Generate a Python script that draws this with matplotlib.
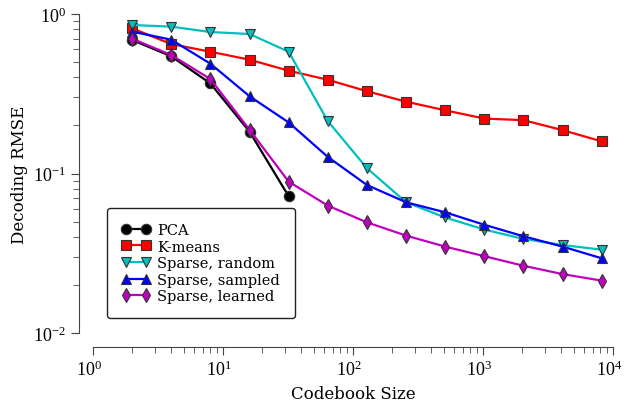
import matplotlib
matplotlib.use('Agg')
import numpy as np
import matplotlib.pyplot as plt
import matplotlib.transforms as mtransforms
from matplotlib.ticker import FuncFormatter

# codebook sizes (powers of two)
sizes = [2, 4, 8, 16, 32, 64, 128, 256, 512, 1024, 2048, 4096, 8192]

pca = [0.687, 0.543, 0.367, 0.183, 0.072]
kmeans = [0.813, 0.648, 0.580, 0.517, 0.441, 0.387, 0.328, 0.282, 0.249,
          0.221, 0.216, 0.187, 0.159]
sparse_random = [0.853, 0.833, 0.771, 0.749, 0.580, 0.213, 0.108, 0.066,
                 0.053, 0.0445, 0.0389, 0.0356, 0.0333]
sparse_sampled = [0.775, 0.690, 0.488, 0.305, 0.209, 0.127, 0.0847, 0.066,
                  0.0571, 0.0477, 0.0404, 0.0348, 0.0294]
sparse_learned = [0.700, 0.553, 0.391, 0.188, 0.0889, 0.0629, 0.0494, 0.0408,
                  0.0348, 0.0303, 0.0264, 0.0234, 0.0213]

plt.rcParams['font.family'] = ['DejaVu Serif']
plt.rcParams['mathtext.fontset'] = 'custom'
plt.rcParams['mathtext.rm'] = 'Liberation Serif'
plt.rcParams['mathtext.it'] = 'Liberation Serif:italic'
plt.rcParams['mathtext.bf'] = 'Liberation Serif:bold'

fig = plt.figure(figsize=(6.24, 4.06), dpi=100)
ax = fig.add_axes([93 / 624, 1 - 334 / 406, 520 / 624, 319 / 406])

mk = dict(markersize=7.5, markeredgecolor='#333333', markeredgewidth=0.8, lw=1.6)
ax.plot(sizes[:len(pca)], pca, 'k-o', label='PCA', **mk)
ax.plot(sizes, kmeans, 'r-s', label='K-means', **mk)
ax.plot(sizes, sparse_random, 'c-v', label='Sparse, random', **mk)
ax.plot(sizes, sparse_sampled, 'b-^', label='Sparse, sampled', **mk)
ax.plot(sizes, sparse_learned, 'm-d', label='Sparse, learned', **mk)

ax.set_xscale('log')
ax.set_yscale('log')
ax.set_xlim(1, 1e4)
ax.set_ylim(1e-2, 1)
ax.set_xticks([1, 10, 100, 1000, 10000])
ax.set_yticks([0.01, 0.1, 1])

pow10 = FuncFormatter(lambda v, pos: r'$10^{%d}$' % round(np.log10(v)))
ax.xaxis.set_major_formatter(pow10)
ax.yaxis.set_major_formatter(pow10)

for side in ['top', 'right']:
    ax.spines[side].set_visible(False)
for side in ['left', 'bottom']:
    ax.spines[side].set_position(('outward', 10))
    ax.spines[side].set_color('#444444')
ax.tick_params(which='both', direction='out', colors='#444444', labelcolor='black',
               labelsize=13)
ax.tick_params(which='major', length=6)
ax.tick_params(which='minor', length=4)

# nudge x tick labels a bit left so 10^4 stays inside the figure
shift = mtransforms.ScaledTranslation(-4 / 100, 0, fig.dpi_scale_trans)
for lbl in ax.get_xticklabels():
    lbl.set_transform(lbl.get_transform() + shift)

ax.set_xlabel('Codebook Size', fontsize=12, labelpad=4)
ax.set_ylabel('Decoding RMSE', fontsize=12)

leg = ax.legend(loc='lower left', bbox_to_anchor=(0.027, 0.047), numpoints=2,
                fontsize=10.5, handlelength=2.0, handletextpad=0.45, labelspacing=0.18,
                borderpad=1.0, borderaxespad=0, fancybox=True, framealpha=1)
leg.get_frame().set_edgecolor('#222222')
leg.get_frame().set_linewidth(1.0)

fig.savefig('out.png', dpi=100)
